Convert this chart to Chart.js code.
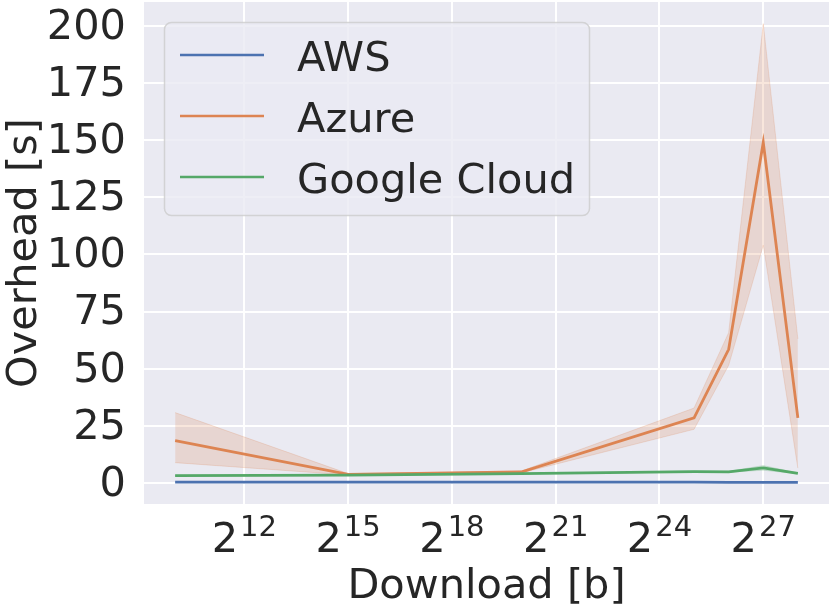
<!DOCTYPE html>
<html>
<head>
<meta charset="utf-8">
<script src="https://cdn.jsdelivr.net/npm/chart.js@4.4.1/dist/chart.umd.min.js"></script>
<style>
  html, body { margin: 0; padding: 0; background: #ffffff; }
  #wrap { width: 830px; height: 607px; position: relative; }
</style>
</head>
<body>
<div id="wrap"><canvas id="overheadChart" width="830" height="607"></canvas></div>
<script>
// download sizes in bytes (2^10, 2^15, 2^20, 2^25, 2^26, 2^27, 2^28)
const downloadSizes = [1024, 32768, 1048576, 33554432, 67108864, 134217728, 268435456];

const awsMean = [0.4, 0.4, 0.4, 0.4, 0.3, 0.3, 0.3];

const azureMean = [18.5, 3.8, 4.8, 28.5, 58.5, 149, 28.5];
const azureLow  = [8.9, 3.5, 4.4, 23.5, 51.5, 104, 6.5];
const azureHigh = [30.8, 4.1, 5.2, 32.8, 65.8, 201, 63];

const googleMean = [3.2, 3.4, 4.1, 5.0, 4.9, 6.6, 4.2];
const googleLow  = [3.0, 3.3, 4.0, 4.8, 4.7, 5.6, 4.0];
const googleHigh = [3.4, 3.5, 4.2, 5.2, 5.1, 7.6, 4.4];

const xTickExps = [12, 15, 18, 21, 24, 27];
const yTicks = [0, 25, 50, 75, 100, 125, 150, 175, 200];

const seriesNames = ['AWS', 'Azure', 'Google Cloud'];
const blue = '#4C72B0', orange = '#DD8452', green = '#55A868';

function pts(ys) {
    return ys.map(function (y, i) { return { x: downloadSizes[i], y: y }; });
}

const FONT = '"DejaVu Sans", sans-serif';
const TEXT = '#262626';
const FS = 41.5;

const bgPlugin = {
    id: 'bg',
    beforeDraw: function (chart) {
        const ctx = chart.ctx, a = chart.chartArea;
        ctx.save();
        ctx.fillStyle = '#ffffff';
        ctx.fillRect(0, 0, chart.width, chart.height);
        ctx.fillStyle = '#EAEAF2';
        ctx.fillRect(a.left, a.top, a.right - a.left, a.bottom - a.top);
        ctx.restore();
    }
};

// x tick labels as 2^n with superscript
const powTicks = {
    id: 'powTicks',
    afterDraw: function (chart) {
        const ctx = chart.ctx, xs = chart.scales.x;
        ctx.save();
        ctx.fillStyle = TEXT;
        ctx.textBaseline = 'alphabetic';
        ctx.textAlign = 'left';
        xTickExps.forEach(function (e) {
            const px = xs.getPixelForValue(Math.pow(2, e));
            ctx.font = FS + 'px ' + FONT;
            const wBase = ctx.measureText('2').width;
            ctx.font = '29px ' + FONT;
            const wExp = ctx.measureText(String(e)).width;
            const x0 = px - (wBase + wExp + 2) / 2;
            ctx.font = FS + 'px ' + FONT;
            ctx.fillText('2', x0, 552);
            ctx.font = '29px ' + FONT;
            ctx.fillText(String(e), x0 + wBase + 2, 536);
        });
        ctx.restore();
    }
};

const boxLegend = {
    id: 'boxLegend',
    afterDraw: function (chart) {
        const ctx = chart.ctx;
        const colors = [blue, orange, green];
        ctx.save();
        ctx.beginPath();
        ctx.roundRect(164.5, 22.5, 425, 193, 7);
        ctx.fillStyle = 'rgba(234,234,242,0.8)';
        ctx.fill();
        ctx.lineWidth = 1.5;
        ctx.strokeStyle = 'rgba(204,204,204,0.8)';
        ctx.stroke();
        ctx.font = FS + 'px ' + FONT;
        ctx.textBaseline = 'alphabetic';
        ctx.textAlign = 'left';
        seriesNames.forEach(function (name, i) {
            const y = 55 + i * 61;
            ctx.beginPath();
            ctx.moveTo(180, y);
            ctx.lineTo(264, y);
            ctx.strokeStyle = colors[i];
            ctx.lineWidth = 2.5;
            ctx.stroke();
            ctx.fillStyle = TEXT;
            ctx.fillText(name, 297, y + 16);
        });
        ctx.restore();
    }
};

function band(data, color, target) {
    return {
        label: '_band',
        data: pts(data),
        borderColor: color,
        borderWidth: 1,
        backgroundColor: color,
        pointRadius: 0,
        fill: target,
        order: 5
    };
}

new Chart(document.getElementById('overheadChart'), {
    type: 'line',
    data: {
        datasets: [
            { label: 'AWS', data: pts(awsMean), borderColor: blue, borderWidth: 2.8, pointRadius: 0, fill: false, order: 3 },
            band(azureHigh, 'rgba(221,132,82,0.2)', '+1'),
            band(azureLow, 'rgba(221,132,82,0.2)', false),
            { label: 'Azure', data: pts(azureMean), borderColor: orange, borderWidth: 2.8, pointRadius: 0, fill: false, order: 2 },
            band(googleHigh, 'rgba(85,168,104,0.2)', '+1'),
            band(googleLow, 'rgba(85,168,104,0.2)', false),
            { label: 'Google Cloud', data: pts(googleMean), borderColor: green, borderWidth: 2.8, pointRadius: 0, fill: false, order: 1 }
        ]
    },
    options: {
        responsive: false,
        animation: false,
        layout: { padding: { top: 2, right: 1, left: 0, bottom: 0 } },
        plugins: {
            legend: { display: false },
            tooltip: { enabled: false }
        },
        scales: {
            x: {
                type: 'logarithmic',
                min: Math.pow(2, 9.1),
                max: Math.pow(2, 28.9),
                afterBuildTicks: function (scale) {
                    scale.ticks = xTickExps.map(function (e) { return { value: Math.pow(2, e) }; });
                },
                afterFit: function (scale) {
                    scale.height = 103;
                    scale.paddingLeft = 0;
                    scale.paddingRight = 0;
                },
                ticks: { display: false },
                grid: { color: '#ffffff', lineWidth: 2, drawTicks: false },
                border: { display: false },
                title: {
                    display: true,
                    text: 'Download [b]',
                    color: TEXT,
                    font: { family: FONT, size: FS },
                    padding: { top: 0, bottom: -5 }
                }
            },
            y: {
                min: -9.2,
                max: 210.5,
                afterBuildTicks: function (scale) {
                    scale.ticks = yTicks.map(function (v) { return { value: v }; });
                },
                afterFit: function (scale) {
                    scale.width = 144;
                    scale.paddingTop = 0;
                    scale.paddingBottom = 0;
                },
                ticks: {
                    color: TEXT,
                    padding: 18,
                    labelOffset: 2,
                    font: { family: FONT, size: FS }
                },
                grid: { color: '#ffffff', lineWidth: 2, drawTicks: false },
                border: { display: false },
                title: {
                    display: true,
                    text: 'Overhead [s]',
                    color: TEXT,
                    font: { family: FONT, size: FS },
                    padding: { top: 0, bottom: 0 }
                }
            }
        }
    },
    plugins: [bgPlugin, powTicks, boxLegend]
});
</script>
</body>
</html>
